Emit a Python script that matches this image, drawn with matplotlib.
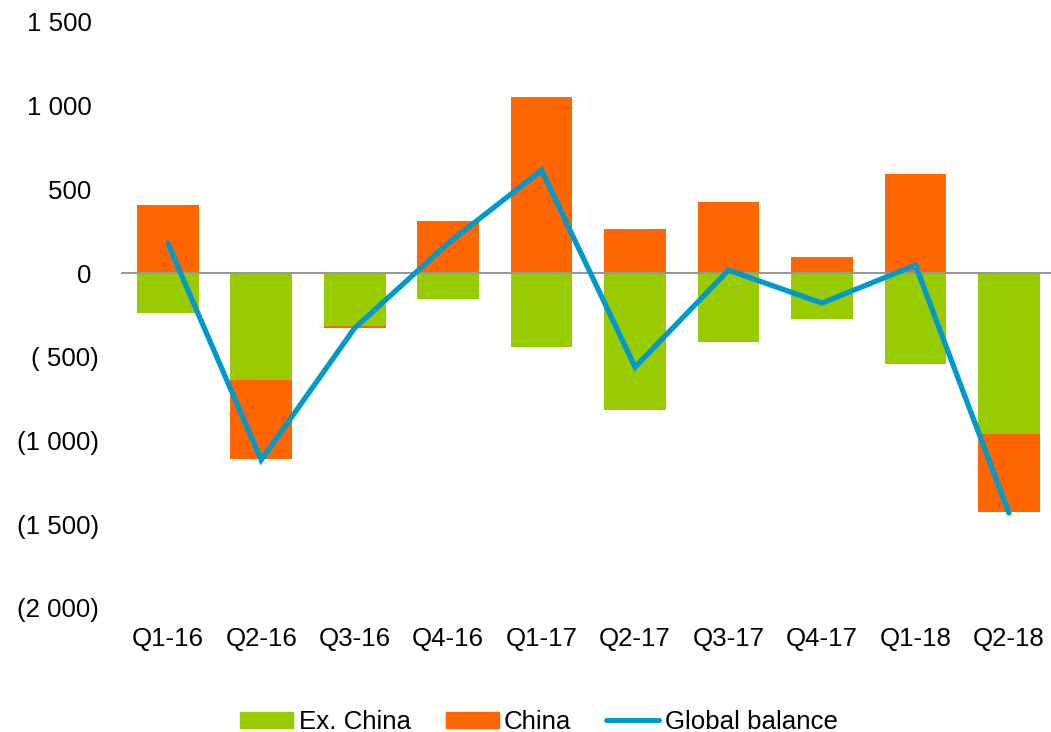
import numpy as np
import matplotlib.pyplot as plt
from matplotlib.ticker import FuncFormatter
from matplotlib.patches import Patch
from matplotlib.lines import Line2D

plt.rcParams['font.family'] = ['Liberation Sans', 'DejaVu Sans']

quarters = ["Q1-16", "Q2-16", "Q3-16", "Q4-16", "Q1-17",
            "Q2-17", "Q3-17", "Q4-17", "Q1-18", "Q2-18"]
ex_china = np.array([-239, -639, -316, -155, -442, -818, -412, -275, -543, -961])
china = np.array([406, -471, -12, 310, 1051, 263, 424, 96, 591, -466])
global_balance = np.array([179, -1116, -328, 179, 615, -561, 18, -179, 48, -1433])

green = "#99CC00"
orange = "#FF6600"
blue = "#0099CC"


def fmt(v, pos):
    s = f"{abs(int(v)):,}".replace(",", " ")
    if v < 0:
        return "(" + s.rjust(4) + ")"
    return s + " "


fig = plt.figure(figsize=(10.51, 7.32), dpi=100)
ax = fig.add_axes([121 / 1051, 1 - 608 / 732, 1 - 121 / 1051, (608 - 22) / 732])

x = np.arange(len(quarters))
w = 0.66
ax.bar(x, ex_china, w, color=green, zorder=2)
china_bottom = np.where(china >= 0, 0, ex_china)
ax.bar(x, china, w, bottom=china_bottom, color=orange, zorder=2)
ax.axhline(0, color="#999999", lw=1.5, zorder=3)
ax.plot(x, global_balance, color=blue, lw=3.8,
        solid_capstyle="round", solid_joinstyle="miter", zorder=4)

ax.set_xlim(-0.5, 9.45)
ax.set_ylim(-2000, 1500)
ax.set_yticks(np.arange(-2000, 1501, 500))
ax.yaxis.set_major_formatter(FuncFormatter(fmt))
ax.set_xticks(x)
ax.set_xticklabels(quarters)
for s in ax.spines.values():
    s.set_visible(False)
ax.tick_params(axis="both", length=0, labelsize=18.6, colors="black")
ax.tick_params(axis="y", pad=16)
ax.tick_params(axis="x", pad=14)

handles = [Patch(color=green), Patch(color=orange),
           Line2D([], [], color=blue, lw=3.6, solid_capstyle="round")]
fig.legend(handles, ["Ex. China", "China", "Global balance"],
           loc="center", bbox_to_anchor=(539 / 1051, 1 - 722 / 732), ncol=3,
           frameon=False, fontsize=18.6, handlelength=2.05, handleheight=0.62,
           handletextpad=0.21, columnspacing=1.35, borderpad=0)

fig.savefig("out.png", dpi=100)
